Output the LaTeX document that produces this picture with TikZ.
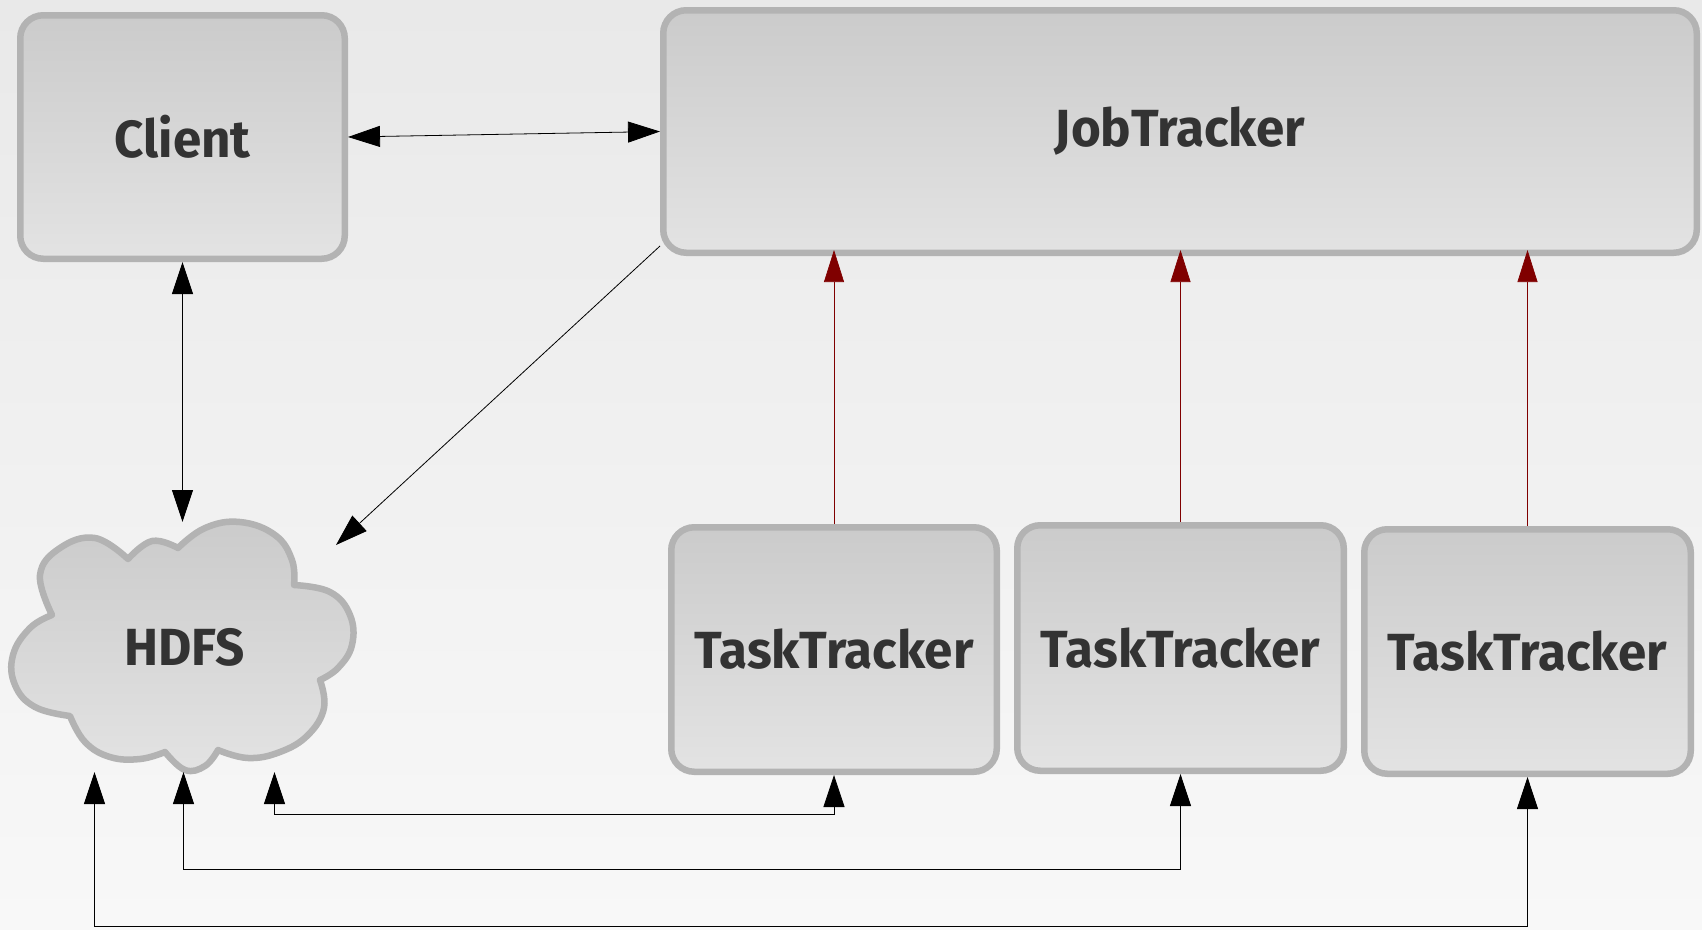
\documentclass[tikz,border=0pt]{standalone}
\usepackage{fontspec}
\setmainfont{Fira Sans}
\usepackage{tikz}
\usetikzlibrary{arrows.meta, positioning}

\definecolor{edgegrey}{HTML}{B3B3B3}
\definecolor{boxtop}{HTML}{CBCBCB}
\definecolor{boxbottom}{HTML}{E3E3E3}
\definecolor{bgtop}{HTML}{E9E9E9}
\definecolor{bgbottom}{HTML}{F8F8F8}
\definecolor{labelgrey}{HTML}{333333}
\definecolor{hbred}{HTML}{800000}

\newcommand{\boxlabel}[1]{\scalebox{0.93}[0.95]{\bfseries #1}}

\begin{document}
\begin{tikzpicture}[x=1pt, y=-1pt,
    box/.style={draw=edgegrey, line width=6.5pt, rounded corners=23pt,
        top color=boxtop, bottom color=boxbottom, text=labelgrey,
        font=\fontsize{55}{60}\selectfont, inner sep=0pt},
    link/.style={{Triangle[length=32pt,width=21pt]}-{Triangle[length=32pt,width=21pt]}, line width=0.8pt},
    oneway/.style={-{Triangle[length=32pt,width=21pt]}, line width=0.8pt},
    beat/.style={-{Triangle[length=32pt,width=20pt]}, draw=hbred!75!white, line width=0.7pt, color=hbred}]
    \useasboundingbox (0,0) rectangle (1702,929);
    \fill[top color=bgtop, bottom color=bgbottom] (0,0) rectangle (1702,929);

    % the cloud, one smooth lobe at a time
    \draw[draw=edgegrey, line width=6.5pt, line join=round, top color=boxtop, bottom color=boxbottom]
        plot[smooth, tension=0.7] coordinates {(52,615) (40,575) (60,548) (95,538) (128,559)}
        -- plot[smooth, tension=0.7] coordinates {(128,559) (152,541) (178,548)}
        -- plot[smooth, tension=0.7] coordinates {(178,548) (205,528) (240,522) (275,535) (292,560) (294,585)}
        -- plot[smooth, tension=0.7] coordinates {(294,585) (330,592) (350,615) (352,645) (338,668) (320,680)}
        -- plot[smooth, tension=0.7] coordinates {(320,680) (324,708) (308,735) (280,752) (248,758) (218,750)}
        -- plot[smooth, tension=0.7] coordinates {(218,750) (205,766) (185,770) (165,752)}
        -- plot[smooth, tension=0.7] coordinates {(165,752) (140,759) (110,757) (85,742) (70,716)}
        -- plot[smooth, tension=0.7] coordinates {(70,716) (35,707) (15,685) (13,655) (30,628) (52,615)}
        -- cycle;

    \node[box, minimum width=324.5pt, minimum height=243.5pt] (client) at (182.5,137) {\boxlabel{Client}};
    \node[box, minimum width=1033.5pt, minimum height=242.5pt] (jobtracker) at (1180,131.5) {\boxlabel{JobTracker}};
    \node[inner sep=0pt, outer sep=0pt, minimum width=345pt, minimum height=250pt,
        text=labelgrey, font=\fontsize{55}{60}\selectfont] (hdfs) at (184.5,647) {\boxlabel{HDFS}};
    \node[box, minimum width=325.5pt, minimum height=244.5pt] (tt1) at (834,649.5) {\boxlabel{TaskTracker}};
    \node[box, minimum width=326.5pt, minimum height=245.5pt] (tt2) at (1180.5,648) {\boxlabel{TaskTracker}};
    \node[box, minimum width=326.5pt, minimum height=244.5pt] (tt3) at (1527.5,651.5) {\boxlabel{TaskTracker}};

    % client side
    \draw[link] (client.east) -- (jobtracker.west);
    \draw[link] (client.south) -- (client.south |- hdfs.north);
    \draw[oneway] ([yshift=10pt]jobtracker.south west) -- ([xshift=-21pt,yshift=-23pt]hdfs.north east);

    % heartbeats
    \draw[beat] (tt1.north) -- ([yshift=6pt]tt1.north |- jobtracker.south);
    \draw[beat] (tt2.north) -- ([yshift=6pt]tt2.north |- jobtracker.south);
    \draw[beat] (tt3.north) -- ([yshift=6pt]tt3.north |- jobtracker.south);

    % data paths
    \draw[link] ([xshift=90pt]hdfs.south) -- ++(0,42) -| (tt1.south);
    \draw[link] ([xshift=-1pt]hdfs.south) -- ++(0,97.5) -| (tt2.south);
    \draw[link] ([xshift=-90pt]hdfs.south) -- ++(0,154) -| (tt3.south);
\end{tikzpicture}
\end{document}
